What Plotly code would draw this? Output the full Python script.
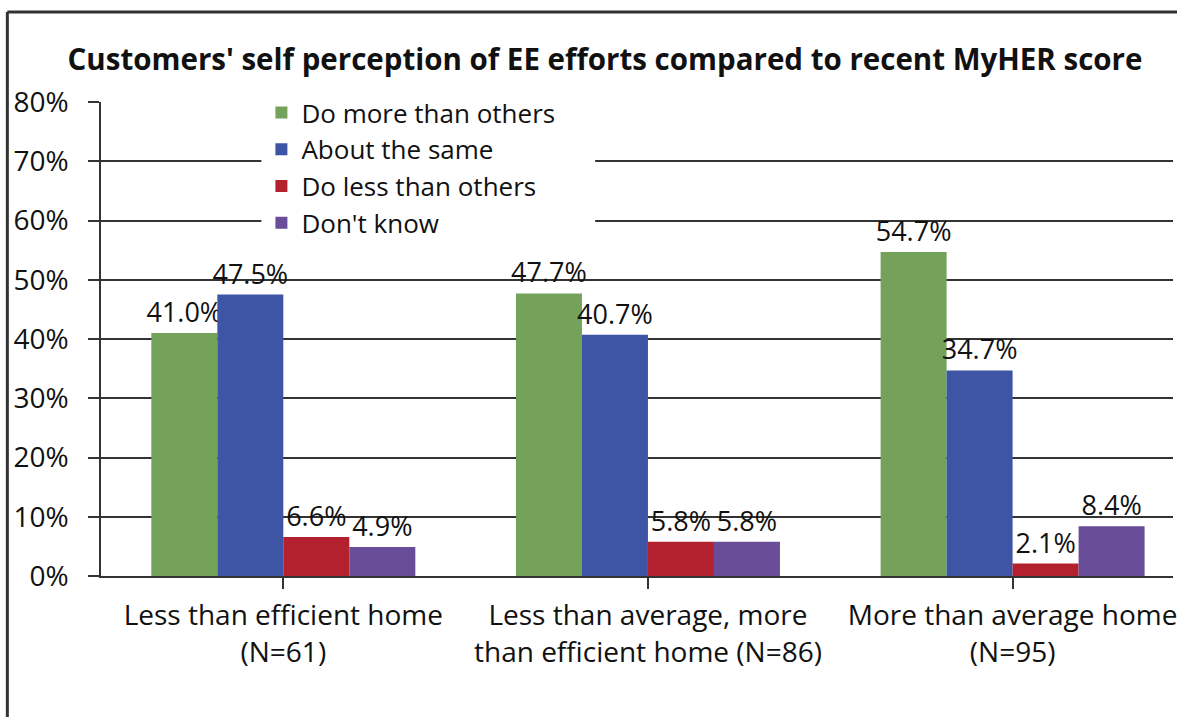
import plotly.graph_objects as go

# Survey groups (x categories) and response shares per group
categories = [
    "Less than efficient home<br>(N=61)",
    "Less than average, more<br>than efficient home (N=86)",
    "More than average home<br>(N=95)",
]
series_names = ["Do more than others", "About the same", "Do less than others", "Don't know"]
do_more = [0.410, 0.477, 0.547]
about_same = [0.475, 0.407, 0.347]
do_less = [0.066, 0.058, 0.021]
dont_know = [0.049, 0.058, 0.084]
y_ticks = [0, 0.1, 0.2, 0.3, 0.4, 0.5, 0.6, 0.7, 0.8]

series_values = [do_more, about_same, do_less, dont_know]
colors = ["#74A25B", "#3D55A4", "#B3202E", "#6A4D98"]

FONT = "Open Sans"
W, H = 1177, 717
ML, MT, MB = 101, 102, 141
plot_w = W - ML
plot_h = H - MT - MB
cat_px = 366

fig = go.Figure()
for name, vals, col in zip(series_names, series_values, colors):
    fig.add_trace(go.Bar(
        x=list(range(len(categories))),
        y=vals,
        name=name,
        marker=dict(color=col, line=dict(width=0)),
        text=[f"{v*100:.1f}%" for v in vals],
        textposition="outside",
        constraintext="none",
        textfont=dict(family=FONT, size=27, color="#111111"),
        cliponaxis=False,
    ))

x_end = -0.5 + plot_w / cat_px

# helpers converting pixel positions to paper fractions
fx = lambda px: (px - ML) / plot_w
fy = lambda py: (H - MB - py) / plot_h

fig.update_layout(
    width=W, height=H,
    margin=dict(l=ML, r=0, t=MT, b=MB),
    paper_bgcolor="white",
    plot_bgcolor="white",
    barmode="group",
    bargap=0.276,
    bargroupgap=0,
    font=dict(family=FONT, color="#111111"),
    title=dict(
        text="<b>Customers' self perception of EE efforts compared to recent MyHER score</b>",
        font=dict(family=FONT, size=29.5, color="#111111"),
        x=605 / W, xanchor="center",
        y=1 - 60 / H, yanchor="middle",
    ),
    legend=dict(
        x=fx(262), xanchor="left",
        y=fy(89), yanchor="top",
        bgcolor="rgba(0,0,0,0)",
        font=dict(family=FONT, size=26, color="#111111"),
        itemclick=False,
    ),
    xaxis=dict(
        range=[-0.5, x_end],
        tickmode="array",
        tickvals=list(range(len(categories))),
        ticktext=categories,
        tickson="boundaries",
        ticks="outside", ticklen=11, tickcolor="#333333", tickwidth=1.5,
        showline=True, linecolor="#333333", linewidth=1.5,
        showgrid=False,
        tickfont=dict(family=FONT, size=28, color="#111111"),
        ticklabeloverflow="allow",
        ticklabelstandoff=3,
        fixedrange=True,
    ),
    yaxis=dict(
        range=[0, 0.8],
        tickvals=y_ticks,
        tickformat=".0%",
        ticks="outside", ticklen=11, tickcolor="#333333", tickwidth=1.5,
        showline=True, linecolor="#333333", linewidth=1.5,
        showgrid=True, gridcolor="#333333", gridwidth=1.5,
        zeroline=False,
        tickfont=dict(family=FONT, size=28, color="#111111"),
        ticklabelstandoff=14,
        fixedrange=True,
    ),
)

# White panel behind the legend, interrupting the gridlines
fig.add_shape(type="rect", xref="paper", yref="paper", layer="above",
              x0=fx(262), x1=fx(597), y0=fy(90), y1=fy(234),
              fillcolor="white", line=dict(width=0))

# Outer frame of the chart (left and top edges)
fig.add_shape(type="line", xref="paper", yref="paper",
              x0=fx(7), x1=fx(7), y0=fy(12), y1=fy(H + 5),
              line=dict(color="#333333", width=3))
fig.add_shape(type="line", xref="paper", yref="paper",
              x0=fx(7), x1=fx(W + 5), y0=fy(12), y1=fy(12),
              line=dict(color="#333333", width=3))

fig.write_html("out.html", config={"displayModeBar": False})
